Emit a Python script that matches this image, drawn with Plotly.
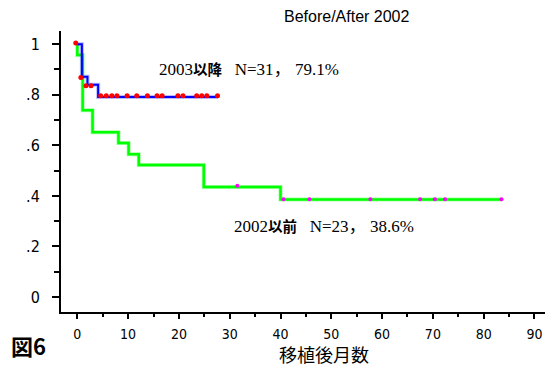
import plotly.graph_objects as go

# ---- data ----
after_t = [0, 0.9, 2.0, 4.1, 27.7]
after_s = [1.0, 0.871, 0.839, 0.791, 0.791]
after_cens_t = [-0.3, 0.7, 1.7, 2.7, 4.6, 5.7, 6.8, 7.8, 9.8, 11.7, 13.8, 15.7, 16.7,
                19.8, 20.8, 23.5, 24.5, 25.5, 27.6]
after_cens_s = [1.005, 0.868, 0.836, 0.836] + [0.796] * 15

before_t = [0, 0, 1.05, 3.0, 8.1, 10.1, 12.1, 24.9, 40.0, 83.6]
before_s = [1.0, 0.957, 0.739, 0.652, 0.609, 0.565, 0.522, 0.435, 0.386, 0.386]
before_cens_t = [31.5, 40.6, 45.7, 57.7, 67.5, 70.4, 72.4, 83.5]
before_cens_s = [0.44, 0.387, 0.387, 0.387, 0.387, 0.387, 0.387, 0.387]

ytick_vals = [0, 0.2, 0.4, 0.6, 0.8, 1.0]
ytick_text = ["0", ".2", ".4", ".6", ".8", "1"]
xtick_vals = [0, 10, 20, 30, 40, 50, 60, 70, 80, 90]

narrow = "Liberation Sans Narrow, DejaVu Sans Condensed, Roboto Condensed, Noto Sans CJK JP, sans-serif"
serif = "Liberation Serif, Times New Roman, serif"
cjk = "Noto Sans CJK JP, sans-serif"

fig = go.Figure()
fig.add_trace(go.Scatter(x=before_t, y=before_s, mode="lines", line_shape="hv",
                         line=dict(color="rgba(0,255,0,0.35)", width=4), showlegend=False, hoverinfo="skip"))
fig.add_trace(go.Scatter(x=before_t, y=before_s, mode="lines", line_shape="hv",
                         line=dict(color="#00ff00", width=2.5), showlegend=False, hoverinfo="skip"))
fig.add_trace(go.Scatter(x=after_t, y=after_s, mode="lines", line_shape="hv",
                         line=dict(color="rgba(60,60,255,0.35)", width=4), showlegend=False, hoverinfo="skip"))
fig.add_trace(go.Scatter(x=after_t, y=after_s, mode="lines", line_shape="hv",
                         line=dict(color="#0000ff", width=2), showlegend=False, hoverinfo="skip"))
fig.add_trace(go.Scatter(x=after_cens_t, y=after_cens_s, mode="markers",
                         marker=dict(color="#ff0000", size=5), showlegend=False, hoverinfo="skip"))
fig.add_trace(go.Scatter(x=before_cens_t, y=before_cens_s, mode="markers",
                         marker=dict(color="#ff00ff", size=4), showlegend=False, hoverinfo="skip"))

def label(year, word, n, pct):
    return (f'<span style="font-family:{serif}">{year}</span>'
            f'<b><span style="font-family:{cjk};font-size:14.5px">{word}</span></b>'
            f'<span style="font-family:{serif}">&nbsp;&nbsp;&nbsp;{n}</span>'
            f'<span style="font-family:{cjk}">，</span>'
            f'<span style="font-family:{serif}">&nbsp;{pct}</span>')

annotations = [
    dict(x=15.6, y=0.909, xref="x", yref="y", xanchor="left", yanchor="middle", showarrow=False,
         text=label("2003", "以降", "N=31", "79.1%"), font=dict(size=17, color="black", family=serif)),
    dict(x=30.5, y=0.285, xref="x", yref="y", xanchor="left", yanchor="middle", showarrow=False,
         text=label("2002", "以前", "N=23", "38.6%"), font=dict(size=17, color="black", family=serif)),
    dict(x=0.591, y=1.05, xref="paper", yref="paper", xanchor="center", yanchor="middle", showarrow=False,
         text="Before/After 2002", font=dict(size=16, color="black", family="Liberation Sans, Arial, sans-serif")),
    dict(x=0.543, y=-0.15, xref="paper", yref="paper", xanchor="center", yanchor="middle", showarrow=False,
         text="移植後月数", font=dict(size=18, color="black", family=cjk)),
    dict(x=-0.068, y=-0.117, xref="paper", yref="paper", xanchor="center", yanchor="middle", showarrow=False,
         text="<b>図6</b>", font=dict(size=22, color="black", family=cjk)),
]

fig.update_layout(
    width=545, height=369,
    margin=dict(l=61, r=0, t=31, b=57),
    paper_bgcolor="white", plot_bgcolor="white",
    annotations=annotations,
    xaxis=dict(range=[-3.21, 92.07], showgrid=False, zeroline=False,
               showline=True, linecolor="black", linewidth=2,
               ticks="outside", ticklen=5, tickwidth=1.5, tickcolor="black",
               tickvals=xtick_vals, ticklabelstandoff=3,
               minor=dict(dtick=5, tick0=0, ticks="outside", ticklen=3, tickwidth=1.5, tickcolor="black"),
               tickfont=dict(size=14, color="black", family=narrow)),
    yaxis=dict(range=[-0.059, 1.052], showgrid=False, zeroline=False,
               showline=True, linecolor="black", linewidth=2,
               ticks="outside", ticklen=7, tickwidth=1.5, tickcolor="black",
               tickvals=ytick_vals, ticktext=ytick_text, ticklabelstandoff=9,
               minor=dict(dtick=0.1, tick0=0, ticks="outside", ticklen=5, tickwidth=1.5, tickcolor="black"),
               tickfont=dict(size=16, color="black", family=narrow)),
)

fig.write_html("out.html", config=dict(displayModeBar=False),
               post_script="document.body.style.margin='0';")
